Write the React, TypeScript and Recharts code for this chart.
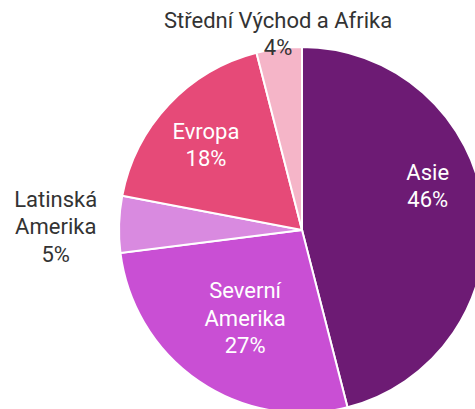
import { PieChart, Pie, Cell } from "recharts";

const regions = ["Asie", "Severní\nAmerika", "Latinská\nAmerika", "Evropa", "Střední Východ a Afrika"];
const shares = [46, 27, 5, 18, 4];
const colors = ["#6d1b74", "#c94fd4", "#d98ae0", "#e64a78", "#f5b5c8"];

const pieData = regions.map((name, i) => ({ name, value: shares[i] }));

const RAD = Math.PI / 180;
// small hand nudges so labels sit where the original put them
const nudge = [
  [-5, -28],
  [11, -12],
  [-3, 4],
  [-8, -3],
  [-1, -1],
];

const renderLabel = ({ cx, cy, midAngle, outerRadius, index }: any) => {
  const value = shares[index];
  const small = value < 6;
  const r = small ? (index === 2 ? outerRadius * 1.33 : outerRadius * 1.0) : value > 40 ? outerRadius * 0.72 : outerRadius * 0.66;
  const x = cx + r * Math.cos(-midAngle * RAD) + nudge[index][0];
  const y = cy + r * Math.sin(-midAngle * RAD) + nudge[index][1];
  const lines = [...regions[index].split("\n"), `${value}%`];
  const lh = 27.5;
  // top label sits above the slice edge, others are centered
  const startY = index === 4 ? y - lh * (lines.length - 1) : y - (lh * (lines.length - 1)) / 2;
  return (
    <text
      x={x}
      y={startY}
      fill={small ? "#333" : "#fff"}
      textAnchor="middle"
      dominantBaseline="central"
      fontSize={22}
      fontFamily="Roboto, sans-serif"
    >
      {lines.map((t, k) => (
        <tspan key={k} x={x} y={startY + k * lh}>
          {t}
        </tspan>
      ))}
    </text>
  );
};

const App = () => {
  return (
    <div style={{ position: "absolute", left: 0, top: 0, background: "#fff" }}>
      <PieChart width={475} height={409}>
        <Pie
          data={pieData}
          dataKey="value"
          nameKey="name"
          cx={297}
          cy={225}
          outerRadius={183}
          startAngle={90}
          endAngle={-270}
          stroke="#fff"
          strokeWidth={2}
          labelLine={false}
          label={renderLabel}
          isAnimationActive={false}
        >
          {pieData.map((_, i) => (
            <Cell key={i} fill={colors[i]} />
          ))}
        </Pie>
      </PieChart>
    </div>
  );
};

export default App;
